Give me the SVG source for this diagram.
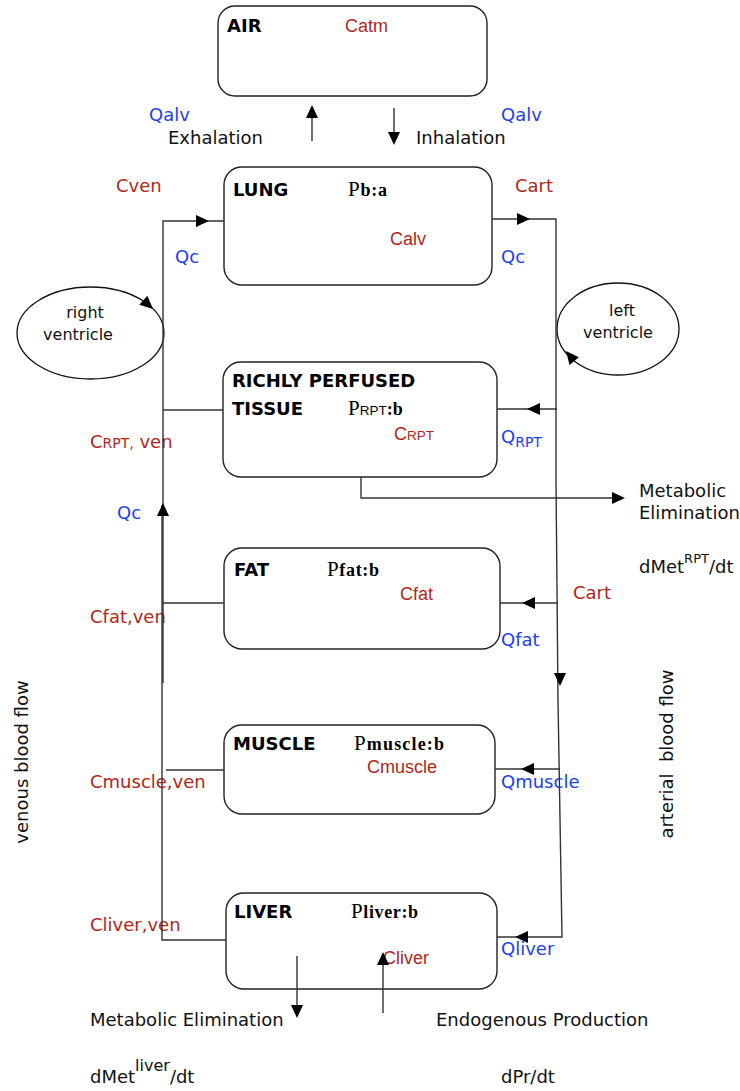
<svg xmlns="http://www.w3.org/2000/svg" xmlns:xlink="http://www.w3.org/1999/xlink" width="740" height="1091" viewBox="0 0 740 1091">
<style>
.box{fill:#fff;stroke:#222;stroke-width:1.4}
.ln{fill:none;stroke:#333;stroke-width:1.4}
.ah{fill:#000}
.t{font-family:"DejaVu Sans",sans-serif;font-size:18px;fill:#111}
.b{font-family:"DejaVu Sans",sans-serif;font-size:18px;font-weight:bold;fill:#000}
.r{font-family:"DejaVu Sans",sans-serif;font-size:18px;fill:#b0261c}
.ri{font-family:"Liberation Sans",Arial,sans-serif;font-size:18px;fill:#b0261c}
.bl{font-family:"DejaVu Sans",sans-serif;font-size:18px;fill:#2040f0}
.v{font-family:"DejaVu Sans",sans-serif;font-size:16px;fill:#111}
.p{font-family:"Liberation Serif","Times New Roman",serif;font-size:21px;fill:#000}
.ps{font-size:18px;font-weight:bold}
.sc{font-family:"Liberation Sans",Arial,sans-serif;font-size:13.5px}
</style>
<defs>
<path id="ah" d="M0,0 L-13,-6 L-13,6 Z"/>
</defs>

<g id="air">
  <rect class="box" x="218" y="6" width="269" height="90" rx="17"/>
  <text class="b" x="227" y="32">AIR</text>
  <text class="ri" x="345" y="32">Catm</text>
</g>

<g id="breathing-labels">
  <text class="bl" x="149" y="121">Qalv</text>
  <text class="t" x="168" y="144">Exhalation</text>
  <text class="t" x="416" y="144">Inhalation</text>
  <text class="bl" x="501" y="121">Qalv</text>
</g>

<g id="lung">
  <rect class="box" x="224" y="167" width="268" height="118" rx="18"/>
  <text class="b" x="233" y="196">LUNG</text>
  <text class="p" x="348" y="196" textLength="39" lengthAdjust="spacing">P<tspan class="ps">b:a</tspan></text>
  <text class="ri" x="390" y="245">Calv</text>
</g>

<g id="lung-labels">
  <text class="r" x="116" y="192">Cven</text>
  <text class="r" x="515" y="192">Cart</text>
  <text class="bl" x="175" y="263">Qc</text>
  <text class="bl" x="501" y="263">Qc</text>
</g>

<g id="right-ventricle">
  <ellipse fill="none" stroke="#111" stroke-width="1.3" cx="90.5" cy="333" rx="73.5" ry="46"/>
  <use xlink:href="#ah" class="ah" transform="translate(153,309) rotate(42)"/>
  <text class="v" x="85" y="318" text-anchor="middle">right</text>
  <text class="v" x="78" y="340" text-anchor="middle">ventricle</text>
</g>

<g id="left-ventricle">
  <ellipse fill="none" stroke="#111" stroke-width="1.3" cx="618" cy="329" rx="61" ry="46"/>
  <use xlink:href="#ah" class="ah" transform="translate(566,351) rotate(-129)"/>
  <text class="v" x="622" y="316" text-anchor="middle">left</text>
  <text class="v" x="618" y="338" text-anchor="middle">ventricle</text>
</g>

<g id="rpt">
  <rect class="box" x="223" y="362" width="274" height="115" rx="18"/>
  <text class="b" x="232" y="387">RICHLY PERFUSED</text>
  <text class="b" x="232" y="415">TISSUE</text>
  <text class="p" x="348" y="415">P<tspan class="sc">RPT</tspan><tspan class="ps">:b</tspan></text>
  <text class="ri" x="394" y="440">C<tspan class="sc">RPT</tspan></text>
</g>

<g id="rpt-labels">
  <text class="r" x="90" y="448">C<tspan style="font-size:14px">RPT,</tspan> ven</text>
  <text class="bl" x="501" y="443">Q<tspan style="font-size:14px" dy="4">RPT</tspan></text>
  <text class="bl" x="117" y="519">Qc</text>
</g>

<g id="rpt-elimination">
  <text class="t" x="639" y="497">Metabolic</text>
  <text class="t" x="639" y="519">Elimination</text>
  <text class="t" x="639" y="573">dMet<tspan style="font-size:13px" dy="-10">RPT</tspan><tspan dy="10">/dt</tspan></text>
</g>

<g id="fat">
  <rect class="box" x="224" y="548" width="276" height="101" rx="18"/>
  <text class="b" x="234" y="576">FAT</text>
  <text class="p" x="327" y="576" textLength="52" lengthAdjust="spacing">P<tspan class="ps">fat:b</tspan></text>
  <text class="ri" x="400" y="600">Cfat</text>
</g>

<g id="fat-labels">
  <text class="r" x="573" y="599">Cart</text>
  <text class="bl" x="501" y="646">Qfat</text>
  <text class="r" x="90" y="623">Cfat,ven</text>
</g>

<g id="muscle">
  <rect class="box" x="224" y="725" width="271" height="89" rx="18"/>
  <text class="b" x="233" y="750">MUSCLE</text>
  <text class="p" x="354" y="750" textLength="90" lengthAdjust="spacing">P<tspan class="ps">muscle:b</tspan></text>
  <text class="ri" x="367" y="773">Cmuscle</text>
</g>

<g id="muscle-labels">
  <text class="bl" x="501" y="788">Qmuscle</text>
  <text class="r" x="90" y="788">Cmuscle,ven</text>
</g>

<g id="liver">
  <rect class="box" x="226" y="893" width="271" height="96" rx="18"/>
  <text class="b" x="234" y="918">LIVER</text>
  <text class="p" x="351" y="918" textLength="67" lengthAdjust="spacing">P<tspan class="ps">liver:b</tspan></text>
  <text class="ri" x="383" y="964">Cliver</text>
</g>

<g id="liver-labels">
  <text class="r" x="90" y="931">Cliver,ven</text>
  <text class="bl" x="501" y="955">Qliver</text>
  <text class="t" x="90" y="1026">Metabolic Elimination</text>
  <text class="t" x="436" y="1026">Endogenous Production</text>
  <text class="t" x="90" y="1083">dMet<tspan style="font-size:16px" dy="-12">liver</tspan><tspan dy="12">/dt</tspan></text>
  <text class="t" x="501" y="1083">dPr/dt</text>
</g>

<g id="flow-labels">
  <text class="t" transform="translate(28,762) rotate(-90)" text-anchor="middle">venous blood flow</text>
  <text class="t" transform="translate(673,754) rotate(-90)" text-anchor="middle" xml:space="preserve">arterial  blood flow</text>
</g>

<g id="connectors">
  <line class="ln" x1="312" y1="141" x2="312" y2="112"/>
  <use xlink:href="#ah" class="ah" transform="translate(312,105) rotate(-90)"/>
  <line class="ln" x1="394" y1="108" x2="394" y2="138"/>
  <use xlink:href="#ah" class="ah" transform="translate(394,145) rotate(90)"/>

  <polyline class="ln" points="163,683 163,221 224,221"/>
  <use xlink:href="#ah" class="ah" transform="translate(209,221)"/>
  <polyline class="ln" points="162,505 162,940 226,940"/>
  <use xlink:href="#ah" class="ah" transform="translate(163,503) rotate(-90)"/>

  <polyline class="ln" points="492,219 556,219 556,480 558,700 562,937 497,937"/>
  <use xlink:href="#ah" class="ah" transform="translate(530,219)"/>
  <use xlink:href="#ah" class="ah" transform="translate(560,686) rotate(90)"/>

  <line class="ln" x1="163" y1="410" x2="223" y2="410"/>
  <line class="ln" x1="497" y1="409" x2="557" y2="409"/>
  <use xlink:href="#ah" class="ah" transform="translate(527,409) rotate(180)"/>
  <polyline class="ln" points="361,477 361,498 614,498"/>
  <use xlink:href="#ah" class="ah" transform="translate(625,498)"/>

  <line class="ln" x1="163" y1="603" x2="224" y2="603"/>
  <line class="ln" x1="500" y1="603" x2="558" y2="603"/>
  <use xlink:href="#ah" class="ah" transform="translate(522,603) rotate(180)"/>

  <line class="ln" x1="166" y1="770" x2="224" y2="770"/>
  <line class="ln" x1="495" y1="769" x2="560" y2="769"/>
  <use xlink:href="#ah" class="ah" transform="translate(521,769) rotate(180)"/>

  <use xlink:href="#ah" class="ah" transform="translate(515,937) rotate(180)"/>
  <line class="ln" x1="297" y1="956" x2="297" y2="1008"/>
  <use xlink:href="#ah" class="ah" transform="translate(297,1018) rotate(90)"/>
  <line class="ln" x1="383" y1="1013" x2="383" y2="962"/>
  <use xlink:href="#ah" class="ah" transform="translate(383,952) rotate(-90)"/>
</g>
</svg>
